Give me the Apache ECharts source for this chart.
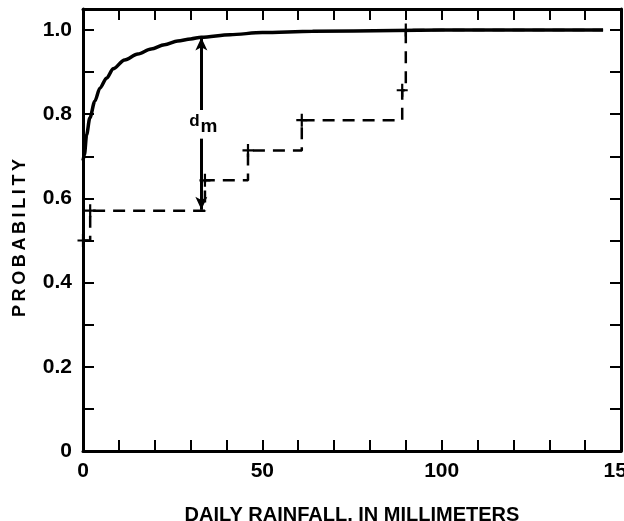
<!DOCTYPE html>
<html>
<head>
<meta charset="utf-8">
<script src="https://cdn.jsdelivr.net/npm/echarts@6/dist/echarts.min.js"></script>
<style>
  html, body { margin: 0; padding: 0; background: #fff; }
  #chart { width: 624px; height: 521px; }
</style>
</head>
<body>
<div id="chart"></div>
<script>
// fitted (theoretical) distribution
const cdfX = [0, 0.4, 1, 1.9, 3.3, 4.7, 6.6, 8.4, 11.6, 15.3, 19, 22.7, 26.4, 30, 33, 41, 50, 64, 87, 100, 145]
const cdfY = [0.69, 0.704, 0.751, 0.791, 0.831, 0.862, 0.886, 0.908, 0.929, 0.943, 0.955, 0.965, 0.974, 0.979, 0.983, 0.989, 0.994, 0.997, 0.999, 1.0, 1.0]
// observed (empirical) step distribution, dashed
const stepX = [0, 2, 34, 46, 61, 89, 90, 145]
const stepY = [0.5, 0.571, 0.643, 0.714, 0.786, 0.857, 1.0, 1.0]
// maximum difference d_m (arrow broken around its label)
const dmX = 33
const dmLow = 0.573
const dmHigh = 0.982
const dmGap = [0.742, 0.81]
// tick labels
const xTickLabels = [0, 50, 100, 150]
const yTickLabels = [0, 0.2, 0.4, 0.6, 0.8, 1.0]

const font = "'Liberation Sans', Arial, sans-serif"
const near = (list, v) => list.some(t => Math.abs(t - v) < 1e-6)

const frameAxis = {
  axisLine: { show: true, onZero: false, lineStyle: { color: '#000', width: 3 } },
  axisTick: { show: true, inside: true, length: 11, lineStyle: { color: '#000', width: 2 } },
  splitLine: { show: false }
}

const option = {
  animation: false,
  backgroundColor: '#fff',
  grid: { left: 83, right: 3, top: 9, bottom: 70, outerBoundsMode: 'none', containLabel: false },
  xAxis: [
    {
      type: 'value', min: 0, max: 150, interval: 10, position: 'bottom',
      ...frameAxis,
      name: 'DAILY RAINFALL, IN MILLIMETERS',
      nameLocation: 'middle', nameGap: 54,
      nameTextStyle: { color: '#000', fontFamily: font, fontWeight: 'bold', fontSize: 20 },
      axisLabel: {
        color: '#000', fontFamily: font, fontWeight: 'bold', fontSize: 21, margin: 10,
        formatter: v => near(xTickLabels, v) ? String(v) : ''
      }
    },
    {
      type: 'value', min: 0, max: 150, interval: 10, position: 'top',
      ...frameAxis,
      axisLabel: { show: false }
    }
  ],
  yAxis: [
    {
      type: 'value', min: 0, max: 1.05, interval: 0.1, position: 'left',
      ...frameAxis,
      name: 'P\u2009R\u2009O\u2009B\u2009A\u2009B\u2009I\u2009L\u2009I\u2009T\u2009Y',
      nameLocation: 'middle', nameGap: 54, nameRotate: 90,
      nameTextStyle: { color: '#000', fontFamily: font, fontWeight: 'bold', fontSize: 18, padding: [0, 16, 0, 0] },
      axisLabel: {
        color: '#000', fontFamily: font, fontWeight: 'bold', fontSize: 21, margin: 11,
        formatter: v => near(yTickLabels, v) ? (v === 0 ? '0' : v.toFixed(1)) : ''
      }
    },
    {
      type: 'value', min: 0, max: 1.05, interval: 0.1, position: 'right',
      ...frameAxis,
      axisLabel: { show: false }
    }
  ],
  series: [
    {
      name: 'fitted',
      type: 'line',
      smooth: 0.3,
      smoothMonotone: 'x',
      showSymbol: false,
      symbol: 'none',
      lineStyle: { color: '#000', width: 3.5 },
      data: cdfX.map((x, i) => [x, cdfY[i]]),
      markLine: {
        silent: true,
        symbolSize: [9, 13],
        label: { show: false },
        lineStyle: { color: '#000', width: 3, type: 'solid' },
        data: [
          [{ coord: [dmX, dmGap[0]], symbol: 'none' }, { coord: [dmX, dmLow], symbol: 'arrow' }],
          [{ coord: [dmX, dmGap[1]], symbol: 'none' }, { coord: [dmX, dmHigh], symbol: 'arrow' }]
        ]
      }
    },
    {
      name: 'observed',
      type: 'line',
      step: 'end',
      symbol: 'path://M4,0h2v12h-2zM0,5h10v2h-10z',
      symbolSize: [11, 13],
      showAllSymbol: true,
      itemStyle: { color: '#000' },
      lineStyle: { color: '#000', width: 2.5, type: [12, 8] },
      data: stepX.map((x, i) => i === stepX.length - 1
        ? { value: [x, stepY[i]], symbol: 'none' }
        : [x, stepY[i]])
    },
    {
      name: 'dm label',
      type: 'scatter',
      symbolSize: 0,
      silent: true,
      itemStyle: { opacity: 1, color: '#000' },
      data: [[dmX, (dmGap[0] + dmGap[1]) / 2]],
      label: {
        show: true,
        position: 'inside',
        offset: [2, 0],
        color: '#000',
        opacity: 1,
        textBorderWidth: 0,
        formatter: '{d|d}{m|m}',
        rich: {
          d: { fontFamily: font, fontSize: 17, fontWeight: 'bold', color: '#000', textBorderWidth: 0, verticalAlign: 'top', padding: [0, 1, 3, 0] },
          m: { fontFamily: font, fontSize: 19, fontWeight: 'bold', color: '#000', textBorderWidth: 0, verticalAlign: 'bottom', padding: [4, 0, 0, 0] }
        }
      }
    }
  ]
}

const chart = echarts.init(document.getElementById('chart'))
chart.setOption(option)
</script>
</body>
</html>
